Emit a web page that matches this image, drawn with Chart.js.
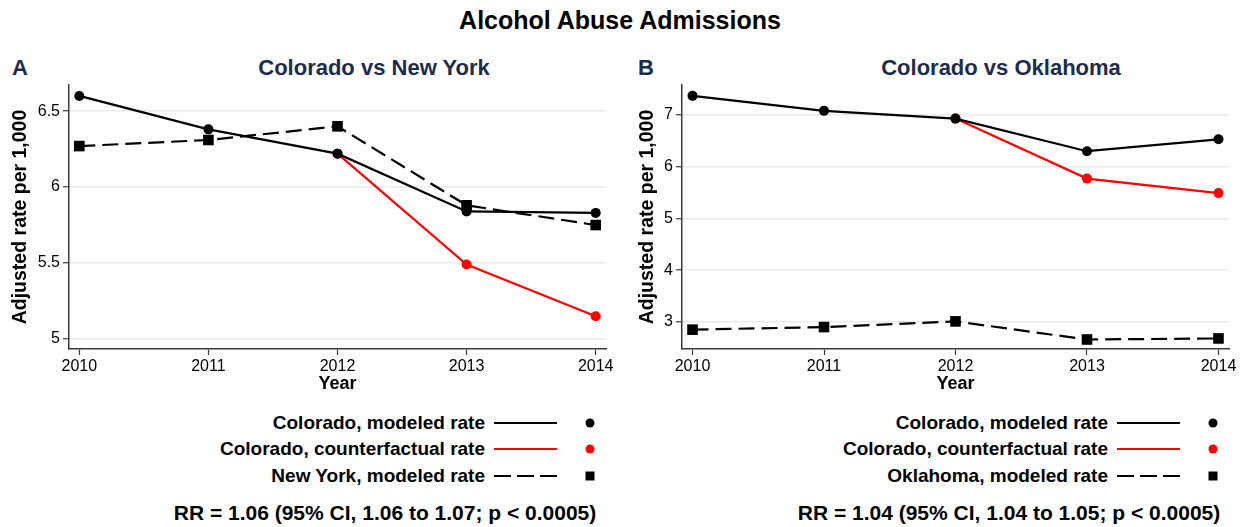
<!DOCTYPE html>
<html>
<head>
<meta charset="utf-8">
<script src="https://cdn.jsdelivr.net/npm/chart.js@4.4.1/dist/chart.umd.min.js"></script>
<style>
  html, body { margin: 0; padding: 0; background: #fff; }
  body { width: 1245px; height: 527px; position: relative; overflow: hidden; font-family: "Liberation Sans", Arial, Helvetica, sans-serif; }
  .abs { position: absolute; white-space: nowrap; }
  #title { left: 0; width: 1240px; top: 6px; text-align: center; font-weight: bold; font-size: 25px; color: #000; }
  .panel { font-weight: bold; font-size: 22px; color: #1c2c4c; }
  .sub { font-weight: bold; font-size: 22px; color: #1c2c4c; transform: translateX(-50%); }
  .lg { font-weight: bold; font-size: 19px; color: #000; transform: translate(-100%, -50%); }
  .rr { font-weight: bold; font-size: 21px; color: #000; transform: translate(-50%, -50%); }
  .line { height: 2px; background: #000; }
  .dash { height: 2px; background: repeating-linear-gradient(to right, #000 0 17px, transparent 17px 23px); }
  .dot { width: 9px; height: 9px; border-radius: 50%; background: #000; transform: translate(-50%, -50%); }
  .sq { width: 9px; height: 9px; background: #000; transform: translate(-50%, -50%); }
  canvas { position: absolute; }
</style>
</head>
<body>
<div id="title" class="abs">Alcohol Abuse Admissions</div>
<div class="abs panel" style="left:12px; top:55px;">A</div>
<div class="abs panel" style="left:638px; top:55px;">B</div>
<div class="abs sub" style="left:374px; top:55px;">Colorado vs New York</div>
<div class="abs sub" style="left:1001px; top:55px;">Colorado vs Oklahoma</div>

<canvas id="chartA" width="623" height="400" style="left:0; top:0;"></canvas>
<canvas id="chartB" width="618" height="400" style="left:627px; top:0;"></canvas>

<div id="legendA"></div>
<div id="legendB"></div>

<script>
// ---- data ----
const years = [2010, 2011, 2012, 2013, 2014];
const yTicksA = [5, 5.5, 6, 6.5];
const yTicksB = [3, 4, 5, 6, 7];

const coloradoModeledA = [6.60, 6.38, 6.22, 5.84, 5.83];
const coloradoCounterfactualA = [null, null, 6.22, 5.49, 5.15];
const newYorkModeled = [6.27, 6.31, 6.40, 5.88, 5.75];

const coloradoModeledB = [7.37, 7.08, 6.93, 6.30, 6.53];
const coloradoCounterfactualB = [null, null, 6.93, 5.77, 5.49];
const oklahomaModeled = [2.85, 2.90, 3.01, 2.66, 2.68];

const legendLabelsA = ["Colorado, modeled rate", "Colorado, counterfactual rate", "New York, modeled rate"];
const legendLabelsB = ["Colorado, modeled rate", "Colorado, counterfactual rate", "Oklahoma, modeled rate"];
const rrTextA = "RR = 1.06 (95% CI, 1.06 to 1.07; p < 0.0005)";
const rrTextB = "RR = 1.04 (95% CI, 1.04 to 1.05; p < 0.0005)";

// ---- helpers ----
const FONT = '"Liberation Sans", Arial, Helvetica, sans-serif';
const AXIS = '#3a3a3a';
const GRID = '#e4ecf1';

function pts(vals) {
  return years.map((x, i) => ({ x: x, y: vals[i] }));
}

function makeChart(id, modeled, counter, other, yTicks, yMin, yMax, yWidth, padRight) {
  const ctx = document.getElementById(id);
  return new Chart(ctx, {
    type: 'line',
    data: {
      datasets: [
        { data: pts(modeled), borderColor: '#000', backgroundColor: '#000', borderWidth: 2.2,
          pointStyle: 'circle', pointRadius: 5, pointBorderWidth: 0, tension: 0 },
        { data: pts(other), borderColor: '#000', backgroundColor: '#000', borderWidth: 2.2,
          borderDash: [16, 7], pointStyle: 'rect', pointRadius: 7.5, pointBorderWidth: 0, tension: 0 },
        { data: pts(counter), borderColor: '#ff0000', backgroundColor: '#ff0000', borderWidth: 2.2,
          pointStyle: 'circle', pointRadius: 5, pointBorderWidth: 0, tension: 0, spanGaps: false }
      ]
    },
    options: {
      responsive: false,
      devicePixelRatio: 1,
      animation: false,
      layout: { padding: { top: 85, right: padRight, left: 0, bottom: 0 } },
      plugins: { legend: { display: false }, tooltip: { enabled: false }, title: { display: false } },
      scales: {
        x: {
          type: 'linear',
          min: 2009.92, max: 2014.08,
          afterBuildTicks: s => { s.ticks = years.map(v => ({ value: v })); },
          afterFit: s => { s.height = 51; },
          grid: { drawOnChartArea: false, drawTicks: true, tickLength: 6, tickColor: AXIS, tickWidth: 1.2 },
          border: { display: true, color: AXIS, width: 1.5 },
          ticks: { color: '#000', font: { family: FONT, size: 16 }, padding: 2, callback: v => String(v), maxRotation: 0 },
          title: { display: true, text: 'Year', color: '#000', font: { family: FONT, size: 18, weight: 'bold' }, padding: { top: 0, bottom: 5 } }
        },
        y: {
          type: 'linear',
          min: yMin, max: yMax,
          afterBuildTicks: s => { s.ticks = yTicks.map(v => ({ value: v })); },
          afterFit: s => { s.width = yWidth; },
          grid: { color: GRID, lineWidth: 1.5, drawTicks: true, tickLength: 6, tickColor: AXIS, tickWidth: 1.2 },
          border: { display: true, color: AXIS, width: 1.5 },
          ticks: { color: '#000', font: { family: FONT, size: 16 }, padding: 3, callback: v => String(v) },
          title: { display: true, text: 'Adjusted rate per 1,000', color: '#000', font: { family: FONT, size: 19.5, weight: 'bold' }, padding: { top: 9, bottom: 0 } }
        }
      }
    }
  });
}

makeChart('chartA', coloradoModeledA, coloradoCounterfactualA, newYorkModeled, yTicksA, 4.934, 6.672, 69, 17);
makeChart('chartB', coloradoModeledB, coloradoCounterfactualB, oklahomaModeled, yTicksB, 2.476, 7.58, 55, 16);

// ---- legends ----
function buildLegend(containerId, labels, rrText, textRight, lineLeft, markerX, rrCenter) {
  const c = document.getElementById(containerId);
  const rows = [423, 449, 476];
  const kinds = [
    { line: 'line', color: '#000', marker: 'dot' },
    { line: 'line', color: '#ff0000', marker: 'dot' },
    { line: 'dash', color: '#000', marker: 'sq' }
  ];
  let html = '';
  labels.forEach((lab, i) => {
    const k = kinds[i];
    html += `<div class="abs lg" style="left:${textRight}px; top:${rows[i]}px;">${lab}</div>`;
    const bg = k.line === 'line' ? `background:${k.color};` : '';
    html += `<div class="abs ${k.line}" style="left:${lineLeft}px; top:${rows[i] - 1}px; width:63px; ${bg}"></div>`;
    html += `<div class="abs ${k.marker}" style="left:${markerX}px; top:${rows[i]}px; background:${k.color};"></div>`;
  });
  html += `<div class="abs rr" style="left:${rrCenter}px; top:513px;">${rrText.replace(/</g, '&lt;')}</div>`;
  c.innerHTML = html;
}
buildLegend('legendA', legendLabelsA, rrTextA, 485, 494, 590, 385);
buildLegend('legendB', legendLabelsB, rrTextB, 1108, 1117, 1213, 1009);
</script>
</body>
</html>
